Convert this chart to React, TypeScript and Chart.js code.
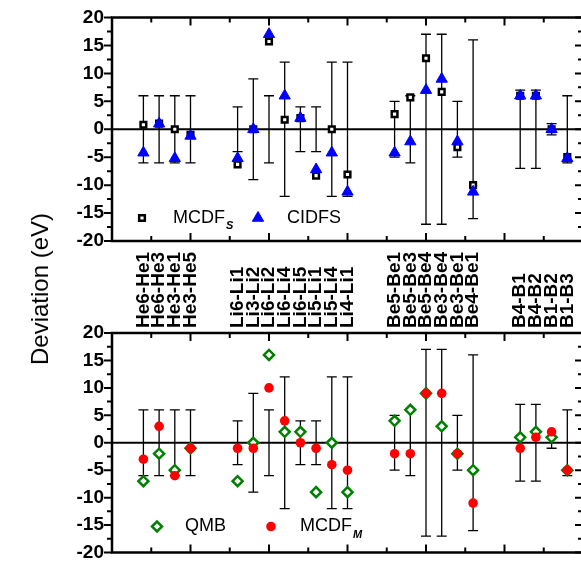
import React, { useEffect, useRef } from 'react';
import { Chart, registerables } from 'chart.js';

Chart.register(...registerables);

// ---------- data ----------
const heLabels = ['He6-He1', 'He6-He3', 'He3-He1', 'He3-He5'];
const liLabels = ['Li6-Li1', 'Li3-Li2', 'Li6-Li2', 'Li6-Li4', 'Li6-Li5', 'Li5-Li1', 'Li5-Li4', 'Li4-Li1'];
const beLabels = ['Be5-Be1', 'Be5-Be3', 'Be5-Be4', 'Be3-Be4', 'Be3-Be1', 'Be4-Be1'];
const bLabels = ['B4-B1', 'B4-B2', 'B1-B2', 'B1-B3'];

const mcdfS = [0.8, 1, 0, -1, -6.3, 0, 15.7, 1.7, 2, -8.3, 0, -8.1, 2.7, 5.7, 12.7, 6.7, -3.2, -10, 6, 6, 0, -5];
const cidfs = [-4.2, 1, -5.2, -1.2, -5.2, 0, 17, 6, 2, -7.2, -4.2, -11.2, -4.2, -2.2, 7, 9, -2.2, -11.2, 6, 6, 0, -5.2];
const qmb = [-7, -2, -5, -1, -7, 0, 16, 2, 2, -9, 0, -9, 4, 6, 9, 3, -2, -5, 1, 2, 1, -5];
const mcdfM = [-3, 3, -6, -1, -1, -1, 10, 4, 0, -1, -4, -5, -2, -2, 9, 9, -2, -11, -1, 1, 2, -5];
const expError = [6, 6, 6, 6, 4, 9, 6, 12, 4, 4, 12, 12, 5, 6, 17, 17, 5, 16, 7, 7, 1, 6];

const yTickValues = [-20, -15, -10, -5, 0, 5, 10, 15, 20];

// ---------- derived ----------
const groups = [heLabels, liLabels, beLabels, bLabels];
const categories: string[] = [];
const xPos: number[] = [];
(() => {
  let cursor = 2;
  groups.forEach((g) => {
    g.forEach((name) => {
      categories.push(name);
      xPos.push(cursor);
      cursor += 1;
    });
    cursor += 2;
  });
})();
const X_MIN = 0;
const X_MAX = 30;

const FONT = '"Liberation Sans", Arial, Helvetica, sans-serif';
const LABEL_SIZE = 19;

function drawMarker(ctx: CanvasRenderingContext2D, ds: any, x: number, y: number) {
  const r = ds.pointRadius;
  ctx.save();
  ctx.lineWidth = ds.pointBorderWidth;
  ctx.strokeStyle = ds.pointBorderColor;
  ctx.fillStyle = ds.pointBackgroundColor;
  ctx.beginPath();
  const style = ds.pointStyle;
  if (style === 'rect') {
    const s = Math.SQRT1_2 * r;
    ctx.rect(x - s, y - s, 2 * s, 2 * s);
  } else if (style === 'triangle') {
    let a = 0;
    ctx.moveTo(x + Math.sin(a) * r, y - Math.cos(a) * r);
    a += (2 * Math.PI) / 3;
    ctx.lineTo(x + Math.sin(a) * r, y - Math.cos(a) * r);
    a += (2 * Math.PI) / 3;
    ctx.lineTo(x + Math.sin(a) * r, y - Math.cos(a) * r);
    ctx.closePath();
  } else if (style === 'rectRot') {
    ctx.moveTo(x - r, y);
    ctx.lineTo(x, y - r);
    ctx.lineTo(x + r, y);
    ctx.lineTo(x, y + r);
    ctx.closePath();
  } else {
    ctx.arc(x, y, r, 0, Math.PI * 2);
  }
  ctx.fill();
  if (ds.pointBorderWidth > 0) ctx.stroke();
  ctx.restore();
}

const panelPlugin = {
  id: 'panel',
  beforeDatasetsDraw(chart: any) {
    const { ctx, chartArea: ca, scales } = chart;
    const xs = scales.x;
    const ys = scales.y;
    ctx.save();
    ctx.strokeStyle = '#000';
    // zero line
    ctx.lineWidth = 2;
    const y0 = ys.getPixelForValue(0);
    ctx.beginPath();
    ctx.moveTo(ca.left, y0);
    ctx.lineTo(ca.right, y0);
    ctx.stroke();
    // error bars
    ctx.lineWidth = 1.3;
    xPos.forEach((xv, i) => {
      const px = xs.getPixelForValue(xv);
      const t = ys.getPixelForValue(expError[i]);
      const b = ys.getPixelForValue(-expError[i]);
      ctx.beginPath();
      ctx.moveTo(px, t);
      ctx.lineTo(px, b);
      ctx.moveTo(px - 5, t);
      ctx.lineTo(px + 5, t);
      ctx.moveTo(px - 5, b);
      ctx.lineTo(px + 5, b);
      ctx.stroke();
    });
    ctx.restore();
  },
  afterDraw(chart: any, _args: any, opts: any) {
    const { ctx, chartArea: ca, scales } = chart;
    const xs = scales.x;
    const ys = scales.y;
    ctx.save();
    ctx.strokeStyle = '#000';
    ctx.lineCap = 'butt';
    // ticks
    ctx.lineWidth = 2;
    ctx.beginPath();
    for (let v = -20; v <= 20.001; v += 2.5) {
      const major = Math.abs(v % 5) < 1e-6;
      const len = major ? 8 : 5;
      const py = ys.getPixelForValue(v);
      ctx.moveTo(ca.left, py);
      ctx.lineTo(ca.left - len, py);
      ctx.moveTo(ca.right, py);
      ctx.lineTo(ca.right - len, py);
    }
    for (let v = X_MIN; v <= X_MAX + 0.001; v += 2.5) {
      const major = Math.abs(v % 5) < 1e-6;
      const len = major ? 8 : 5;
      const px = xs.getPixelForValue(v);
      ctx.moveTo(px, ca.top);
      ctx.lineTo(px, ca.top + len);
      ctx.moveTo(px, ca.bottom);
      ctx.lineTo(px, ca.bottom - len);
    }
    ctx.stroke();
    // frame
    ctx.lineWidth = 2.5;
    ctx.strokeRect(ca.left, ca.top, ca.right - ca.left, ca.bottom - ca.top);

    // legend
    const items = opts.legend || [];
    const ly = ca.bottom - opts.legendOffset;
    items.forEach((it: any) => {
      const ds = chart.data.datasets[it.index];
      drawMarker(ctx, ds, ca.left + it.marker, ly);
      ctx.fillStyle = '#000';
      ctx.font = `18px ${FONT}`;
      ctx.textAlign = 'left';
      ctx.textBaseline = 'middle';
      const tx = ca.left + it.text;
      ctx.fillText(it.label, tx, ly);
      if (it.sub) {
        const w = ctx.measureText(it.label).width;
        ctx.font = `italic bold 11px ${FONT}`;
        ctx.fillText(it.sub, tx + w + 1, ly + 8);
      }
    });
    ctx.restore();
  },
};

function yAxis() {
  return {
    type: 'linear',
    position: 'left',
    min: -20,
    max: 20,
    afterBuildTicks: (axis: any) => {
      axis.ticks = yTickValues.map((v) => ({ value: v }));
    },
    afterFit: (s: any) => {
      s.width = 112;
    },
    ticks: {
      color: '#000',
      font: { family: FONT, size: 19, weight: 'bold', lineHeight: 1 },
      padding: 8,
    },
    grid: { display: false, drawTicks: false },
    border: { display: false },
  };
}

function scatterDataset(label: string, values: number[], style: any) {
  return {
    label,
    data: values.map((v, i) => ({ x: xPos[i], y: v })),
    showLine: false,
    ...style,
  };
}

export default function App() {
  const topRef = useRef<HTMLCanvasElement>(null);
  const botRef = useRef<HTMLCanvasElement>(null);

  useEffect(() => {
    const top = new Chart(topRef.current as HTMLCanvasElement, {
      type: 'scatter',
      data: {
        datasets: [
          scatterDataset('CIDFS', cidfs, {
            pointStyle: 'triangle',
            pointRadius: 6.5,
            pointBackgroundColor: '#0000ff',
            pointBorderColor: '#0000ff',
            pointBorderWidth: 1,
            order: 1,
          }),
          scatterDataset('MCDFS', mcdfS, {
            pointStyle: 'rect',
            pointRadius: 4,
            pointBackgroundColor: '#ffffff',
            pointBorderColor: '#000000',
            pointBorderWidth: 2.5,
            order: 2,
          }),
        ],
      },
      options: {
        animation: false,
        responsive: false,
        maintainAspectRatio: false,
        layout: { padding: { left: 0, right: 17, top: 15, bottom: 19 } },
        plugins: {
          legend: { display: false },
          tooltip: { enabled: false },
          panel: {
            legendOffset: 23,
            legend: [
              { index: 1, marker: 30, text: 61, label: 'MCDF', sub: 'S' },
              { index: 0, marker: 146, text: 175, label: 'CIDFS' },
            ],
          },
        } as any,
        scales: {
          x: { type: 'linear', min: X_MIN, max: X_MAX, display: false },
          y: yAxis(),
        } as any,
      },
      plugins: [panelPlugin],
    } as any);

    const bottom = new Chart(botRef.current as HTMLCanvasElement, {
      type: 'scatter',
      data: {
        datasets: [
          scatterDataset('MCDFM', mcdfM, {
            pointStyle: 'circle',
            pointRadius: 4.8,
            pointBackgroundColor: '#ff0000',
            pointBorderColor: '#ff0000',
            pointBorderWidth: 0,
            order: 1,
          }),
          scatterDataset('QMB', qmb, {
            pointStyle: 'rectRot',
            pointRadius: 5,
            pointBackgroundColor: '#ffffff',
            pointBorderColor: '#008000',
            pointBorderWidth: 2.5,
            order: 2,
          }),
        ],
      },
      options: {
        animation: false,
        responsive: false,
        maintainAspectRatio: false,
        layout: { padding: { left: 0, right: 17, top: 0, bottom: 11 } },
        plugins: {
          legend: { display: false },
          tooltip: { enabled: false },
          panel: {
            legendOffset: 26,
            legend: [
              { index: 1, marker: 45, text: 73, label: 'QMB' },
              { index: 0, marker: 159, text: 188, label: 'MCDF', sub: 'M' },
            ],
          },
        } as any,
        scales: {
          x: { type: 'linear', min: X_MIN, max: X_MAX, display: false },
          xLabels: {
            type: 'linear',
            position: 'top',
            min: X_MIN,
            max: X_MAX,
            afterBuildTicks: (axis: any) => {
              axis.ticks = xPos.map((v) => ({ value: v }));
            },
            afterFit: (s: any) => {
              s.height = 93;
            },
            ticks: {
              autoSkip: false,
              maxRotation: 90,
              minRotation: 90,
              padding: 5,
              labelOffset: LABEL_SIZE,
              color: '#000',
              font: { family: FONT, size: LABEL_SIZE, weight: 'bold', lineHeight: 1 },
              callback: (value: any) => {
                const idx = xPos.indexOf(Number(value));
                return idx >= 0 ? categories[idx] : '';
              },
            },
            grid: { display: false, drawTicks: false },
            border: { display: false },
          },
          y: yAxis(),
        } as any,
      },
      plugins: [panelPlugin],
    } as any);

    return () => {
      top.destroy();
      bottom.destroy();
    };
  }, []);

  return (
    <div
      style={{
        position: 'absolute',
        left: 0,
        top: 0,
        width: 581,
        height: 570,
        overflow: 'hidden',
        background: '#fff',
      }}
    >
      <canvas
        ref={topRef}
        width={600}
        height={260}
        style={{ position: 'absolute', left: 0, top: 0 }}
      />
      <canvas
        ref={botRef}
        width={600}
        height={330}
        style={{ position: 'absolute', left: 0, top: 240 }}
      />
      <div
        style={{
          position: 'absolute',
          left: 40,
          top: 289,
          transform: 'translate(-50%, -50%) rotate(-90deg)',
          font: `24px ${FONT}`,
          whiteSpace: 'nowrap',
          color: '#000',
        }}
      >
        Deviation (eV)
      </div>
    </div>
  );
}
